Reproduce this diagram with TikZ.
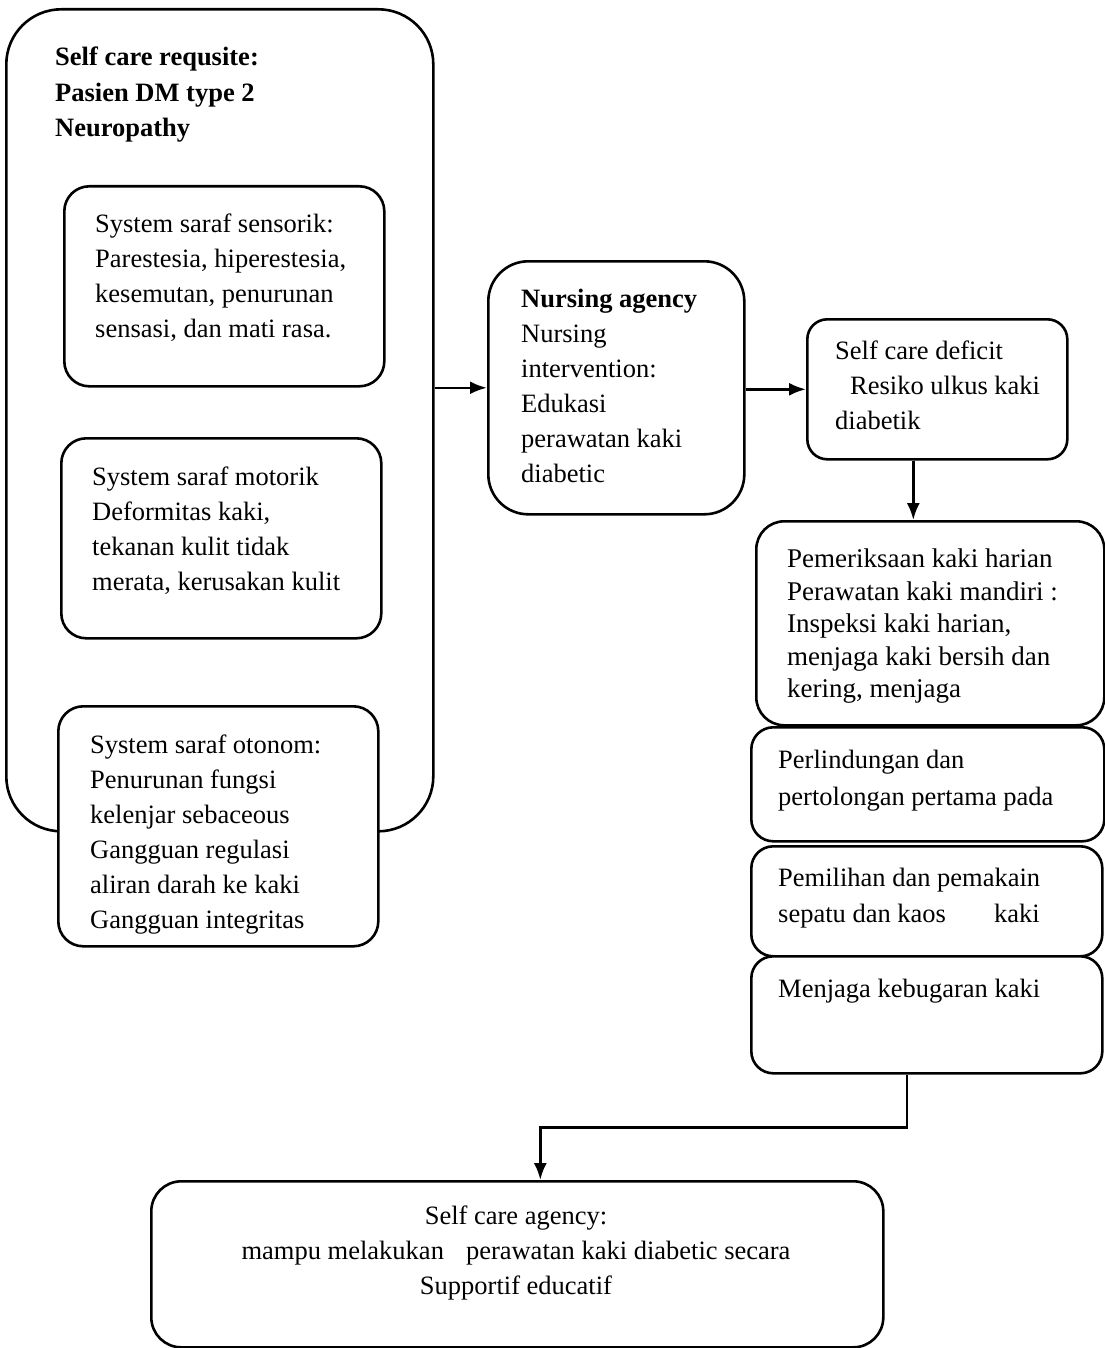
\documentclass[tikz,border=0pt]{standalone}
\usepackage{fontspec}
\setmainfont{Liberation Serif}
\usetikzlibrary{arrows.meta}

\tikzset{
  box/.style={draw, line width=2.6pt, fill=white, inner sep=0pt, anchor=north west},
  txt/.style={anchor=north west, align=left, inner sep=0pt, font=\fontsize{26.5}{35}\selectfont},
  bold/.style={txt, font=\fontsize{26.5}{35.5}\selectfont\bfseries},
  arrow/.style={line width=2.6pt, -{Latex[length=17pt,width=13pt]}}
}

\begin{document}
\begin{tikzpicture}[x=1pt, y=-1pt]
    \useasboundingbox[fill=white] (0,0) rectangle (1104,1348);

    % left column
    \node[box, rounded corners=55pt, minimum width=427pt, minimum height=822pt] (requisite) at (5,8) {};
    \node[bold] (requisite-txt) at (55,47) {Self care requsite:\\ Pasien DM type 2\\ Neuropathy};

    \node[box, rounded corners=25pt, minimum width=320pt, minimum height=200pt] (sensorik) at (63,185) {};
    \node[txt] (sensorik-txt) at (95,214) {System saraf sensorik:\\ Parestesia, hiperestesia,\\ kesemutan, penurunan\\ sensasi, dan mati rasa.};

    \node[box, rounded corners=25pt, minimum width=320pt, minimum height=200pt] (motorik) at (60,437) {};
    \node[txt] (motorik-txt) at (92,467) {System saraf motorik\\ Deformitas kaki,\\ tekanan kulit tidak\\ merata, kerusakan kulit};

    \node[box, rounded corners=25pt, minimum width=320pt, minimum height=240pt] (otonom) at (57,705) {};
    \node[txt] (otonom-txt) at (90,735) {System saraf otonom:\\ Penurunan fungsi\\ kelenjar sebaceous\\ Gangguan regulasi\\ aliran darah ke kaki\\ Gangguan integritas};

    % middle
    \node[box, rounded corners=40pt, minimum width=256pt, minimum height=253pt] (nursing) at (487,260) {};
    \node[txt] (nursing-txt) at (521,289) {\textbf{Nursing agency}\\ Nursing\\ intervention:\\ Edukasi\\ perawatan kaki\\ diabetic};

    \node[box, rounded corners=20pt, minimum width=260pt, minimum height=140pt] (deficit) at (806,318) {};
    \node[txt] (deficit-txt) at (835,341) {Self care deficit\\ \hspace*{15pt}Resiko ulkus kaki\\ diabetik};

    % right column
    \node[box, rounded corners=28pt, minimum width=348pt, minimum height=204pt] (check) at (755,520) {};
    \node[txt, font=\fontsize{27}{32.4}\selectfont] (check-txt) at (787,549) {Pemeriksaan kaki harian\\ Perawatan kaki mandiri :\\ Inspeksi kaki harian,\\ menjaga kaki bersih dan\\ kering, menjaga};

    \node[box, rounded corners=22pt, minimum width=353pt, minimum height=114pt] (firstaid) at (750,726) {};
    \node[txt, font=\fontsize{26.5}{37}\selectfont] (firstaid-txt) at (778,750) {Perlindungan dan\\ pertolongan pertama pada};

    \node[box, rounded corners=22pt, minimum width=351pt, minimum height=110pt] (shoes) at (750,845) {};
    \node[txt, font=\fontsize{26.5}{36}\selectfont] (shoes-txt) at (778,868) {Pemilihan dan pemakain\\ sepatu dan kaos\hspace{48pt}kaki};

    \node[box, rounded corners=22pt, minimum width=351pt, minimum height=117pt] (fitness) at (750,955) {};
    \node[txt] (fitness-txt) at (778,979) {Menjaga kebugaran kaki};

    % bottom
    \node[box, rounded corners=30pt, minimum width=732pt, minimum height=166pt] (agency) at (150,1180) {};
    \node[txt, anchor=north, align=center] (agency-txt) at (516,1206) {Self care agency:\\ mampu melakukan\hspace{22pt}perawatan kaki diabetic secara\\ Supportif educatif};

    % connectors
    \draw[arrow] (requisite.east |- nursing.west) -- (nursing.west);
    \draw[arrow] (nursing.east |- deficit.west) -- (deficit.west);
    \draw[arrow] ([xshift=-24pt]deficit.south) -- ([xshift=-24pt]deficit.south |- check.north);
    \draw[arrow] ([xshift=-20pt]fitness.south) -- ++(0,53) -| ([xshift=23pt]agency.north);
\end{tikzpicture}
\end{document}
